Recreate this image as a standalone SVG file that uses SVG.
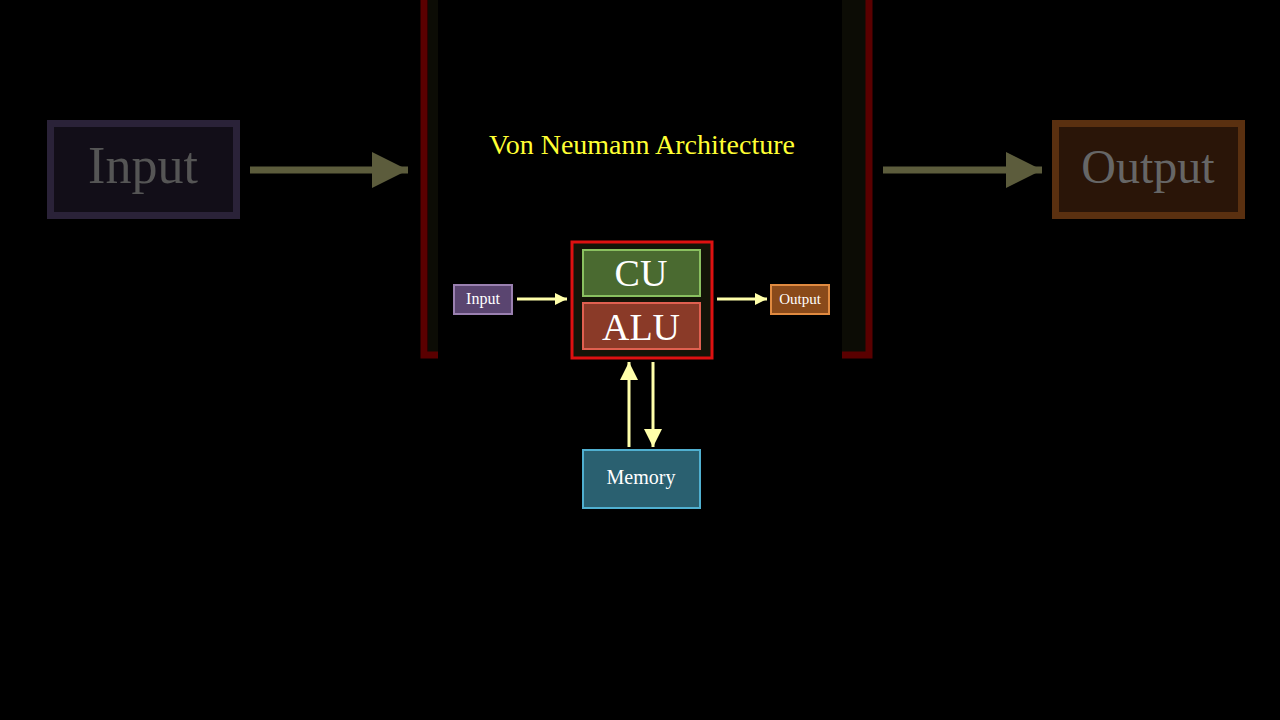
<svg xmlns="http://www.w3.org/2000/svg" width="1280" height="720" viewBox="0 0 1280 720">
<style>
text{font-family:"Liberation Serif","DejaVu Serif",serif;text-anchor:middle}
.w{fill:#fff}
.ln{stroke:#ffffaa;stroke-width:3;fill:none}
.fl{stroke:#5c5c3c;stroke-width:7;fill:none}
</style>
<defs>
<marker id="a" viewBox="0 0 10 10" refX="10" refY="5" markerWidth="4" markerHeight="4" orient="auto" markerUnits="strokeWidth"><path d="M0,0L10,5L0,10z" fill="#ffffaa"/></marker>
<marker id="b" viewBox="0 0 10 10" refX="10" refY="5" markerWidth="6" markerHeight="6" orient="auto" markerUnits="strokeWidth"><path d="M0,0L10,5L0,10z" fill="#ffffaa"/></marker>
<marker id="f" viewBox="0 0 10 10" refX="10" refY="5" markerWidth="5.2" markerHeight="5.2" orient="auto" markerUnits="strokeWidth"><path d="M0,0L10,5L0,10z" fill="#5c5c3c"/></marker>
</defs>
<rect width="1280" height="720" fill="#000"/>
<g id="frame">
<rect x="428" y="0" width="10" height="352" fill="#0c0c05"/>
<path d="M424,0V355H438" stroke="#5a0000" stroke-width="7" fill="none"/>
<rect x="842" y="0" width="24" height="352" fill="#0c0c05"/>
<path d="M869,0V355H842" stroke="#5a0000" stroke-width="7" fill="none"/>
</g>
<g id="bigInput"><rect x="50.5" y="123.5" width="186" height="92" fill="#120e18" stroke="#2a2238" stroke-width="7"/><text x="143" y="183" font-size="52" fill="#555">Input</text></g>
<g id="bigOutput"><rect x="1055.5" y="123.5" width="186" height="92" fill="#2a1508" stroke="#5a3010" stroke-width="7"/><text x="1148" y="183" font-size="48" fill="#666">Output</text></g>
<text id="title" x="642" y="154" font-size="28" fill="#ffff33">Von Neumann Architecture</text>
<g id="cpu"><rect x="572" y="242" width="140" height="116" fill="#141408" stroke="#dd1111" stroke-width="3"/></g>
<g id="cu"><rect x="583" y="250" width="117" height="46" fill="#4a6a30" stroke="#8ac060" stroke-width="2"/><text x="641" y="286" font-size="38" class="w">CU</text></g>
<g id="alu"><rect x="583" y="303" width="117" height="46" fill="#8a3a28" stroke="#e06050" stroke-width="2"/><text x="641" y="340" font-size="38" class="w">ALU</text></g>
<g id="input"><rect x="454" y="285" width="58" height="29" fill="#5a4570" stroke="#9a80b0" stroke-width="2"/><text x="483" y="304" font-size="16" class="w">Input</text></g>
<g id="output"><rect x="771" y="285" width="58" height="29" fill="#8a4a1a" stroke="#e08a40" stroke-width="2"/><text x="800" y="304" font-size="15" class="w">Output</text></g>
<g id="memory"><rect x="583" y="450" width="117" height="58" fill="#2a6070" stroke="#50b0d0" stroke-width="2"/><text x="641" y="484" font-size="20" class="w">Memory</text></g>
<g id="connectors">
<line class="fl" x1="250" y1="170" x2="408" y2="170" marker-end="url(#f)"/>
<line class="fl" x1="883" y1="170" x2="1042" y2="170" marker-end="url(#f)"/>
<line class="ln" x1="517" y1="299" x2="567" y2="299" marker-end="url(#a)"/>
<line class="ln" x1="717" y1="299" x2="767" y2="299" marker-end="url(#a)"/>
<line class="ln" x1="629" y1="447" x2="629" y2="362" marker-end="url(#b)"/>
<line class="ln" x1="653" y1="362" x2="653" y2="447" marker-end="url(#b)"/>
</g>
</svg>
